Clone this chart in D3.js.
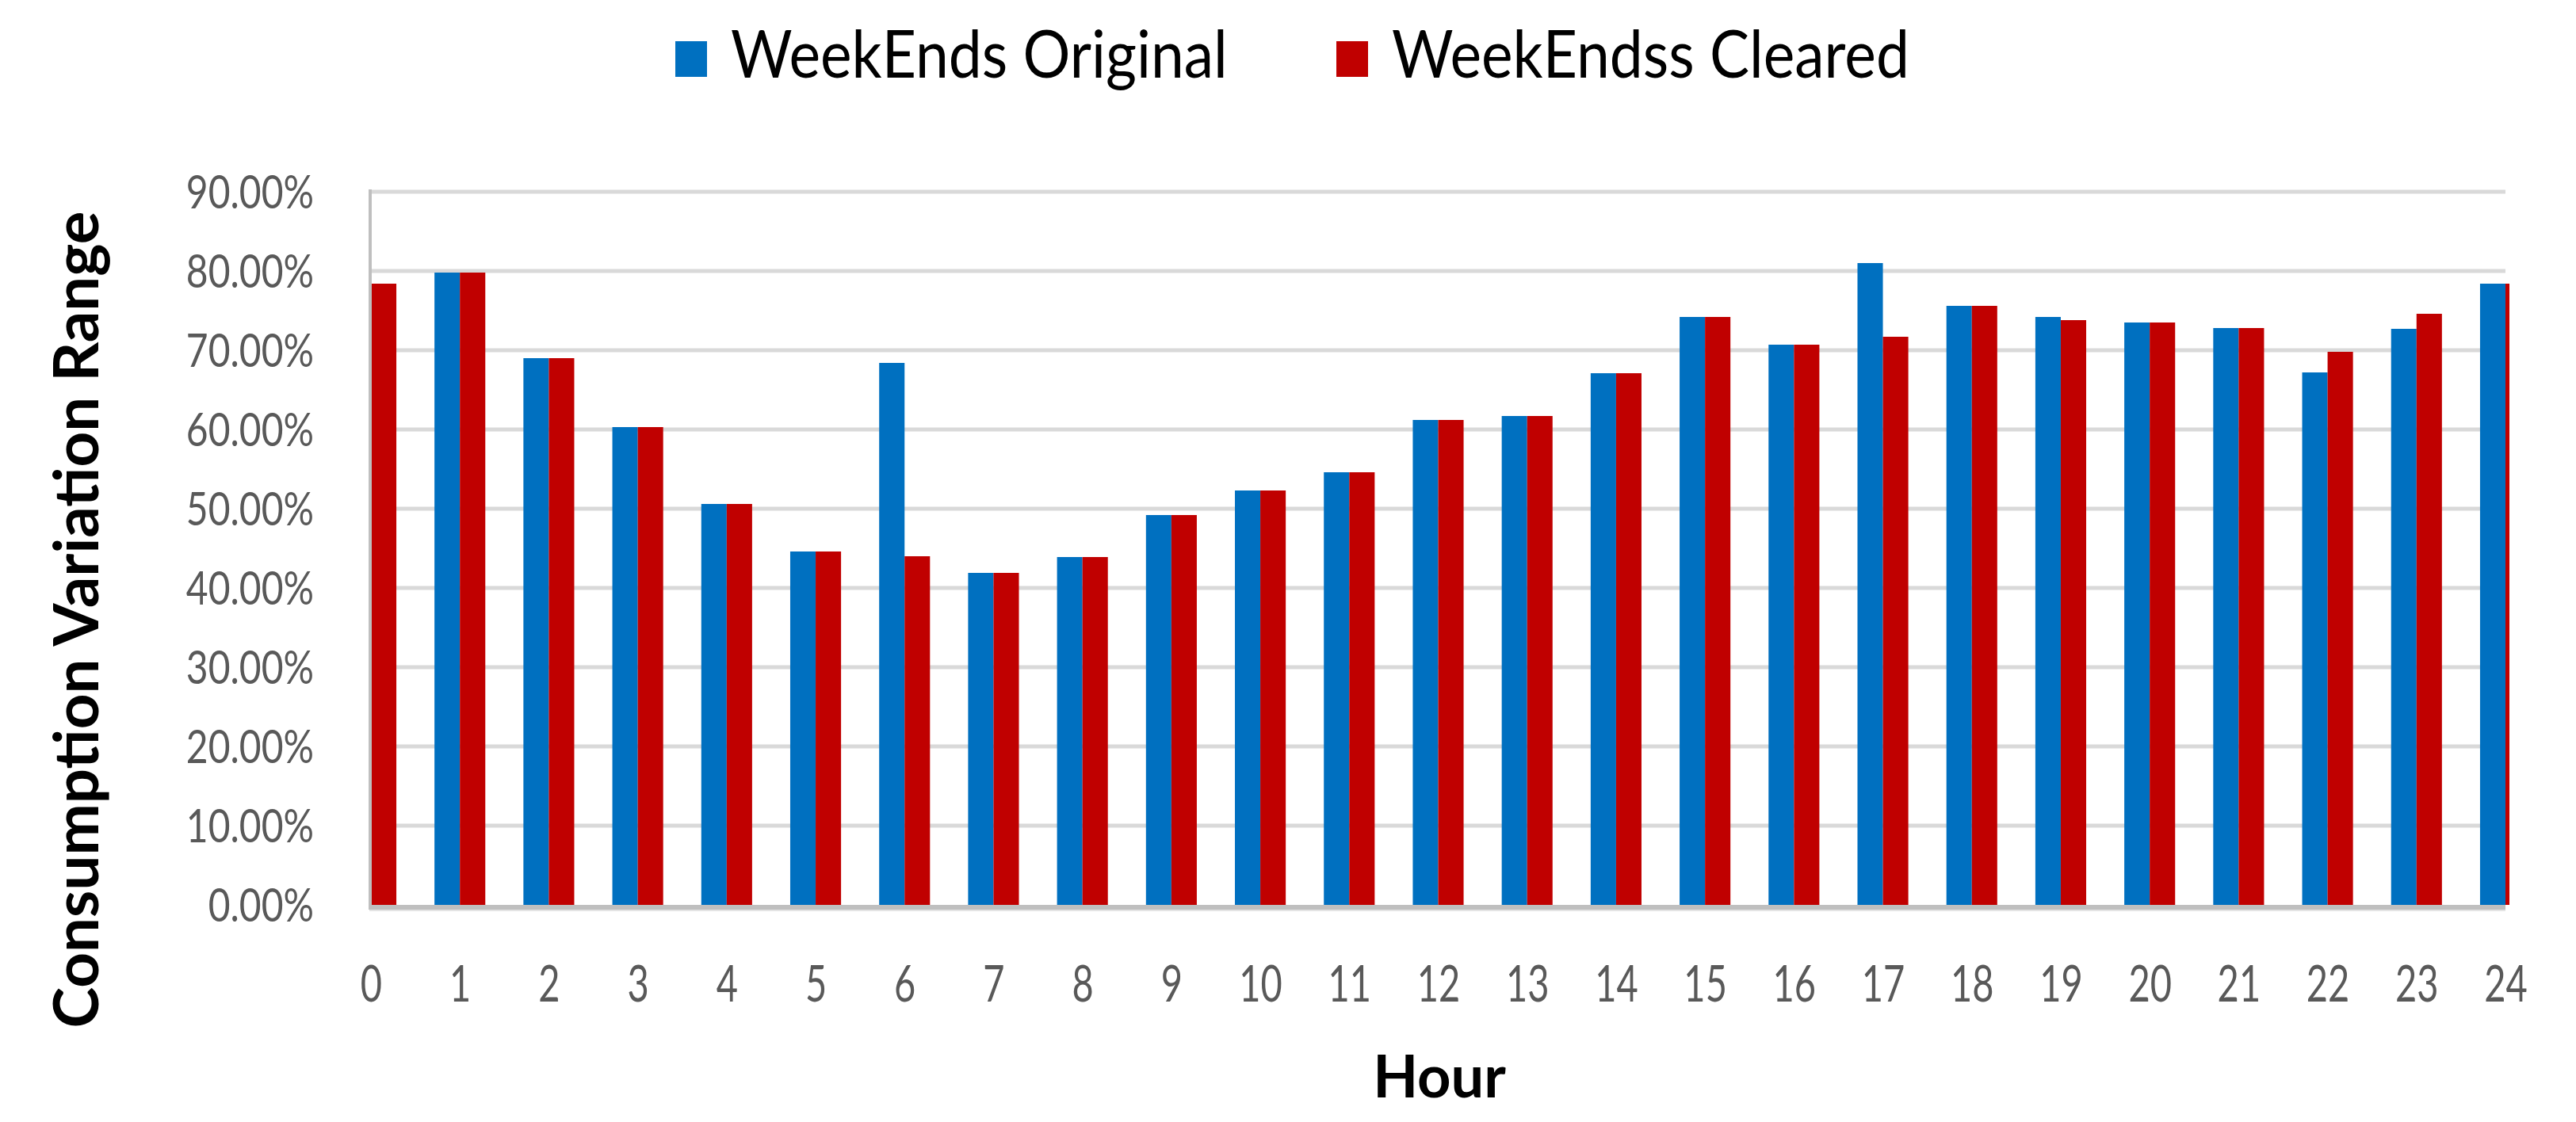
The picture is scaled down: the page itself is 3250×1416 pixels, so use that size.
<!DOCTYPE html>
<html><head><meta charset="utf-8">
<script src="https://cdn.jsdelivr.net/npm/d3@7"></script>
<style>html,body{margin:0;padding:0;background:#fff;}svg{display:block;}</style>
</head><body>
<script>
const hours = [0,1,2,3,4,5,6,7,8,9,10,11,12,13,14,15,16,17,18,19,20,21,22,23,24];
const originalValues = [78.4,79.8,69.0,60.3,50.6,44.6,68.4,41.9,43.9,49.2,52.3,54.6,61.2,61.7,67.1,74.2,70.7,81.0,75.6,74.2,73.5,72.8,67.2,72.7,78.4];
const clearedValues  = [78.4,79.8,69.0,60.3,50.6,44.6,44.0,41.9,43.9,49.2,52.3,54.6,61.2,61.7,67.1,74.2,70.7,71.7,75.6,73.8,73.5,72.8,69.8,74.6,78.4];
const yTicks = [0,10,20,30,40,50,60,70,80,90];
const seriesNames = ["WeekEnds Original","WeekEndss Cleared"];
const seriesColors = ["#0070C0","#C00000"];

const W = 3250, H = 1416;
const svg = d3.select("body").append("svg").attr("width",W).attr("height",H);

const x = d3.scaleLinear().domain([0,24]).range([468,3161]);
const y = d3.scaleLinear().domain([0,90]).range([1142,242]);
const step = x(1)-x(0);
const bw = step/3.5;

// gridlines
svg.append("g").selectAll("line").data(yTicks.filter(d=>d>0)).join("line")
  .attr("x1",x(0)).attr("x2",x(24)).attr("y1",d=>y(d)).attr("y2",d=>y(d))
  .attr("stroke","#D9D9D9").attr("stroke-width",5);

// clip
svg.append("clipPath").attr("id","plotclip").append("rect")
  .attr("x",x(0)+1).attr("y",0).attr("width",x(24)-x(0)+4).attr("height",H);

const bars = svg.append("g").attr("clip-path","url(#plotclip)");
const series = [originalValues, clearedValues];
series.forEach((vals,si)=>{
  bars.append("g").selectAll("rect").data(hours).join("rect")
    .attr("x",(h,i)=>x(h) + (si===0 ? -bw : 0))
    .attr("width",bw)
    .attr("y",(h,i)=>y(vals[i]))
    .attr("height",(h,i)=>y(0)-y(vals[i]))
    .attr("fill",seriesColors[si]);
});

// axis lines
svg.append("line").attr("x1",x(0)-1).attr("x2",x(0)-1).attr("y1",y(90)-3).attr("y2",y(0)+3)
  .attr("stroke","#BFBFBF").attr("stroke-width",4);
svg.append("line").attr("x1",x(0)-3).attr("x2",x(24)).attr("y1",y(0)+3).attr("y2",y(0)+3)
  .attr("stroke","#BFBFBF").attr("stroke-width",6);
svg.append("line").attr("x1",x(0)-2).attr("x2",x(24)).attr("y1",y(0)+7).attr("y2",y(0)+7)
  .attr("stroke","#E4E4E4").attr("stroke-width",2);

// y axis labels
const yAxis = d3.axisLeft(y).tickValues(yTicks).tickSize(0).tickPadding(0)
  .tickFormat(d=>d.toFixed(2)+"%");
const gy = svg.append("g").attr("transform",`translate(396,0)`).call(yAxis);
gy.select(".domain").remove();
gy.selectAll("text").attr("font-family","Lato").attr("font-size",48).attr("fill","#595959")
  .attr("dy","0.35em").attr("transform","scale(1,1.22)");

// x axis labels
const xAxis = d3.axisBottom(x).tickValues(hours).tickSize(0).tickPadding(0).tickFormat(d=>d);
const gx = svg.append("g").attr("transform",`translate(0,1264)`).call(xAxis);
gx.select(".domain").remove();
gx.selectAll("text").attr("font-family","Lato").attr("font-size",47).attr("fill","#595959")
  .attr("dy","0").attr("transform","scale(1,1.35)");

// axis titles
svg.append("text").attr("transform","translate(124,782) rotate(-90)")
  .attr("text-anchor","middle").attr("font-family","Lato").attr("font-weight","bold")
  .attr("font-size",78).attr("fill","#000").text("Consumption Variation Range");
svg.append("text").attr("x",1816).attr("y",1385).attr("text-anchor","middle")
  .attr("font-family","Lato").attr("font-weight","bold").attr("font-size",74).attr("fill","#000").text("Hour");

// legend
const legendX = [852, 1686];
const lg = svg.append("g").selectAll("g").data(seriesNames).join("g")
  .attr("transform",(d,i)=>`translate(${legendX[i]},0)`);
lg.append("rect").attr("x",0).attr("y",52).attr("width",40).attr("height",45).attr("fill",(d,i)=>seriesColors[i]);
lg.append("g").attr("transform","translate(70,98) scale(1,1.12)")
  .append("text").attr("x",0).attr("y",0).attr("font-family","Lato").attr("font-size",75).attr("fill","#000").text(d=>d);
</script>
</body></html>
